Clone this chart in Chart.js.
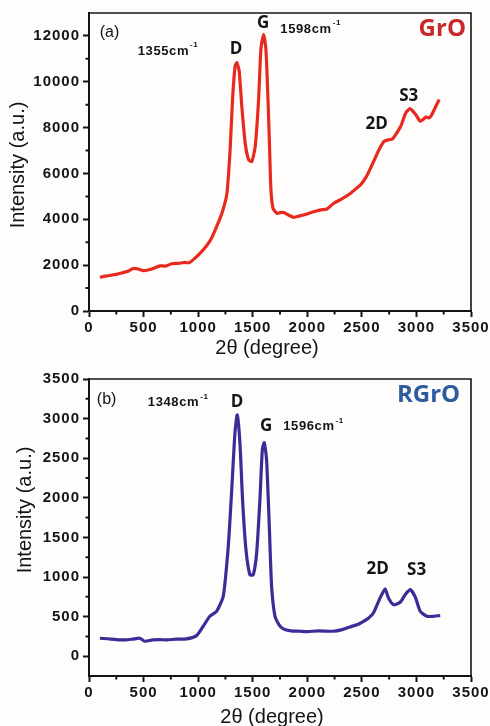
<!DOCTYPE html>
<html lang="en">
<head>
<meta charset="UTF-8" />
<title>Raman GrO / RGrO</title>
<script src="https://cdn.jsdelivr.net/npm/chart.js"></script>
<style>
  html, body { margin: 0; padding: 0; background: #fefdfb; }
  .box { position: relative; width: 490px; height: 363px; }
</style>
</head>
<body>
<div class="box"><canvas id="chartA"></canvas></div>
<div class="box"><canvas id="chartB"></canvas></div>
<script>
// GrO spectrum (a)
const groShift = [100, 150, 200, 250, 300, 350, 405, 450, 500, 550, 600, 650, 700, 760, 820, 870, 920, 970, 1017,
  1070, 1120, 1171, 1220, 1263, 1293, 1315, 1339, 1355, 1376, 1400, 1431, 1462, 1492, 1523, 1554, 1575, 1600,
  1621, 1640, 1655, 1667, 1686, 1722, 1760, 1784, 1830, 1876, 1930, 1998, 2060, 2121, 2180, 2243, 2320, 2397,
  2450, 2489, 2540, 2580, 2620, 2657, 2703, 2749, 2780, 2810, 2856, 2902, 2942, 2970, 2994, 3034, 3060, 3086,
  3110, 3132, 3160, 3178, 3209];
const groInt = [1470, 1520, 1560, 1600, 1660, 1720, 1854, 1830, 1760, 1800, 1880, 1971, 1960, 2060, 2080, 2117, 2110, 2300, 2511,
  2800, 3150, 3700, 4300, 5100, 7036, 9226, 10686, 10832, 10467, 8934, 7328, 6598, 6525, 7182, 9226, 11416, 12073,
  11416, 9226, 7036, 5285, 4482, 4263, 4300, 4292, 4180, 4088, 4150, 4234, 4330, 4409, 4450, 4701, 4900, 5139,
  5350, 5504, 5850, 6234, 6650, 7036, 7401, 7474, 7500, 7693, 8058, 8642, 8832, 8700, 8569, 8277, 8350, 8467,
  8420, 8496, 8750, 8934, 9226];

// RGrO spectrum (b)
const rgroShift = [100, 170, 251, 330, 400, 465, 511, 580, 650, 710, 800, 893, 985, 1046, 1107, 1169, 1230, 1276,
  1306, 1337, 1358, 1383, 1407, 1438, 1474, 1505, 1536, 1566, 1588, 1606, 1627, 1652, 1673, 1704, 1740, 1780,
  1850, 1933, 2000, 2100, 2239, 2320, 2392, 2460, 2515, 2560, 2606, 2667, 2713, 2744, 2790, 2851, 2897, 2943,
  2989, 3035, 3096, 3157, 3218];
const rgroInt = [227, 220, 210, 205, 215, 227, 189, 205, 210, 205, 215, 218, 260, 378, 504, 567, 756, 1387,
  2059, 2815, 3046, 2689, 1975, 1345, 1029, 1029, 1303, 1975, 2605, 2697, 2479, 1639, 882, 504, 400, 345,
  320, 315, 310, 320, 315, 335, 370, 400, 441, 480, 546, 735, 849, 735, 651, 681, 777, 840,
  748, 567, 504, 504, 513];

const xMajor = [0, 500, 1000, 1500, 2000, 2500, 3000, 3500];
const xMinor = [250, 750, 1250, 1750, 2250, 2750, 3250];
const yMajorA = [0, 2000, 4000, 6000, 8000, 10000, 12000];
const yMinorA = [1000, 3000, 5000, 7000, 9000, 11000];
const yMajorB = [0, 500, 1000, 1500, 2000, 2500, 3000, 3500];
const yMinorB = [250, 750, 1250, 1750, 2250, 2750, 3250];

// in-plot labels, placed in data units
const notesA = [
  { text: "(a)", x: 98, y: 12164, kind: "panel" },
  { text: "1355cm", x: 447, y: 11332, kind: "wave" },
  { text: "D", x: 1348, y: 11419, kind: "peak" },
  { text: "G", x: 1596, y: 12558, kind: "peak" },
  { text: "1598cm", x: 1753, y: 12295, kind: "wave" },
  { text: "2D", x: 2635, y: 8134, kind: "peak" },
  { text: "S3", x: 2929, y: 9361, kind: "peak" },
  { text: "GrO", x: 3020, y: 12295, kind: "name" }
];
const notesB = [
  { text: "(b)", x: 72, y: 3237, kind: "panel" },
  { text: "1348cm", x: 539, y: 3199, kind: "wave" },
  { text: "D", x: 1357, y: 3212, kind: "peak" },
  { text: "G", x: 1624, y: 2909, kind: "peak" },
  { text: "1596cm", x: 1780, y: 2897, kind: "wave" },
  { text: "2D", x: 2644, y: 1093, kind: "peak" },
  { text: "S3", x: 3002, y: 1081, kind: "peak" },
  { text: "RGrO", x: 2822, y: 3300, kind: "name" }
];

const INK = "#141414";

const extras = {
  id: "extras",
  beforeDraw(chart) {
    chart.ctx.letterSpacing = "1px";
  },
  afterDraw(chart, args, opts) {
    const { ctx, chartArea: a } = chart;
    const xs = chart.scales.x, ys = chart.scales.y;
    ctx.save();
    // minor ticks
    ctx.strokeStyle = INK;
    ctx.lineWidth = 2;
    ctx.beginPath();
    xMinor.forEach(v => {
      const px = xs.getPixelForValue(v);
      ctx.moveTo(px, a.bottom);
      ctx.lineTo(px, a.bottom + 3.5);
    });
    opts.yMinor.forEach(v => {
      const py = ys.getPixelForValue(v);
      ctx.moveTo(a.left, py);
      ctx.lineTo(a.left - 3.5, py);
    });
    ctx.stroke();
    // frame top/right
    ctx.lineWidth = 1.6;
    ctx.beginPath();
    ctx.moveTo(a.left, a.top);
    ctx.lineTo(a.right, a.top);
    ctx.lineTo(a.right, a.bottom);
    ctx.stroke();

    // axis titles
    ctx.letterSpacing = "0px";
    ctx.fillStyle = INK;
    ctx.font = "20px 'Liberation Sans', Arial, sans-serif";
    ctx.textAlign = "center";
    ctx.textBaseline = "middle";
    ctx.fillText("2θ (degree)", opts.xTitle[0], opts.xTitle[1]);
    ctx.save();
    ctx.translate(opts.yTitle[0], opts.yTitle[1]);
    ctx.rotate(-Math.PI / 2);
    ctx.fillText("Intensity (a.u.)", 0, 0);
    ctx.restore();

    // notes
    ctx.save();
    ctx.beginPath();
    ctx.rect(a.left, a.top, a.right - a.left - 3, a.bottom - a.top);
    ctx.clip();
    opts.notes.forEach(n => {
      const px = xs.getPixelForValue(n.x);
      const py = ys.getPixelForValue(n.y);
      ctx.textBaseline = "middle";
      if (n.kind === "panel") {
        ctx.letterSpacing = "0px";
        ctx.fillStyle = INK;
        ctx.font = "16px 'Liberation Sans', Arial, sans-serif";
        ctx.textAlign = "left";
        ctx.fillText(n.text, px, py);
      } else if (n.kind === "wave") {
        ctx.letterSpacing = "0.6px";
        ctx.fillStyle = INK;
        ctx.font = "bold 13px 'Liberation Sans', Arial, sans-serif";
        ctx.textAlign = "left";
        ctx.fillText(n.text, px, py);
        const w = ctx.measureText(n.text).width;
        ctx.font = "bold 8px 'Liberation Sans', Arial, sans-serif";
        ctx.fillText("-1", px + w + 1, py - 6);
      } else if (n.kind === "peak") {
        ctx.letterSpacing = "0px";
        ctx.fillStyle = INK;
        ctx.font = "bold 17px 'Open Sans', sans-serif";
        ctx.textAlign = "center";
        ctx.fillText(n.text, px, py);
      } else {
        ctx.letterSpacing = "0px";
        ctx.fillStyle = opts.nameColor;
        ctx.font = "bold 24px 'Open Sans', sans-serif";
        ctx.textAlign = "left";
        ctx.fillText(n.text, px, py);
      }
    });
    ctx.restore();
    ctx.restore();
  }
};

function makeChart(id, xsData, ysData, color, yMin, yMax, yMajor, yMinor, notes, nameColor, xAxisH, xTitle, yTitle, topPad) {
  const pts = xsData.map((x, i) => ({ x: x, y: ysData[i] }));
  return new Chart(document.getElementById(id), {
    type: "line",
    data: {
      datasets: [{
        data: pts,
        borderColor: color,
        borderWidth: 3.2,
        pointRadius: 0,
        tension: 0.2,
        fill: false
      }]
    },
    options: {
      responsive: true,
      maintainAspectRatio: false,
      animation: false,
      layout: { padding: { top: topPad, right: 19, left: 0, bottom: 0 } },
      plugins: {
        legend: { display: false },
        tooltip: { enabled: false },
        extras: { yMinor, notes, nameColor, xTitle, yTitle }
      },
      scales: {
        x: {
          type: "linear",
          min: 0,
          max: 3500,
          afterBuildTicks: s => { s.ticks = xMajor.map(v => ({ value: v })); },
          afterFit: s => { s.height = xAxisH; },
          grid: { drawOnChartArea: false, tickLength: 6, tickWidth: 2, tickColor: INK },
          border: { display: true, color: INK, width: 2 },
          ticks: {
            color: INK,
            padding: 2,
            maxRotation: 0,
            font: { family: "'Liberation Sans', Arial, sans-serif", size: 15, weight: "bold" },
            callback: v => String(v)
          }
        },
        y: {
          min: yMin,
          max: yMax,
          afterBuildTicks: s => { s.ticks = yMajor.map(v => ({ value: v })); },
          afterFit: s => { s.width = 89; },
          grid: { drawOnChartArea: false, tickLength: 6, tickWidth: 2, tickColor: INK },
          border: { display: true, color: INK, width: 2 },
          ticks: {
            color: INK,
            padding: 3,
            font: { family: "'Liberation Sans', Arial, sans-serif", size: 15, weight: "bold" },
            callback: v => String(v)
          }
        }
      }
    },
    plugins: [extras]
  });
}

makeChart("chartA", groShift, groInt, "#e8291f", 0, 13000, yMajorA, yMinorA, notesA, "#c8282a",
  52, [267, 348], [18, 165], 13);
makeChart("chartB", rgroShift, rgroInt, "#3b2c98", -250, 3500, yMajorB, yMinorB, notesB, "#2c5b9e",
  50, [272, 354], [25, 147], 16);
</script>
</body>
</html>
